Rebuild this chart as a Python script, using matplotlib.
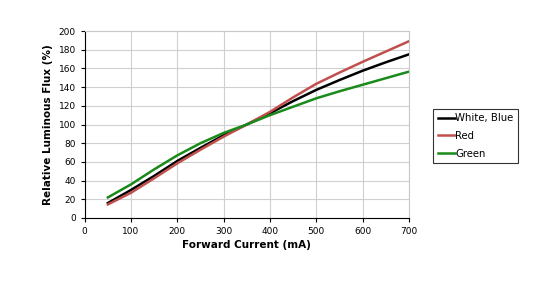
import numpy as np
import matplotlib
matplotlib.use('Agg')
import matplotlib.pyplot as plt

# Forward current (mA) and relative luminous flux (%)
current = [50, 100, 150, 200, 250, 300, 350, 400, 450, 500, 550, 600, 650, 700]
white_blue = [16, 30, 45, 61, 75, 88.5, 100, 112, 125, 137, 147.5, 157.5, 166.5, 175]
red = [14.5, 27, 42.5, 58.5, 73, 87, 100, 113.5, 129, 143.5, 155.5, 167, 178, 189]
green = [22, 36, 52, 67, 80, 91, 100, 110, 119, 128, 135.5, 142.5, 149.5, 156.5]

x_ticks = [0, 100, 200, 300, 400, 500, 600, 700]
y_ticks = list(range(0, 201, 20))

fig = plt.figure(figsize=(5.33, 2.82), dpi=100)
ax = fig.add_axes([0.159, 0.227, 0.608, 0.663])

ax.plot(current, white_blue, color='black', lw=1.8, label='White, Blue')
ax.plot(current, red, color='#c0504d', lw=1.8, label='Red')
ax.plot(current, green, color='#1a8a1a', lw=1.8, label='Green')

ax.set_xlim(0, 700)
ax.set_ylim(0, 200)
ax.set_xticks(x_ticks)
ax.set_yticks(y_ticks)
ax.tick_params(labelsize=6.5, length=3, width=0.8, direction='out')
ax.grid(True, color='#d0d0d0', lw=0.8)
ax.set_axisbelow(True)
for side in ['top', 'right']:
    ax.spines[side].set_color('#c8c8c8')
for side in ['left', 'bottom']:
    ax.spines[side].set_color('black')

ax.set_xlabel('Forward Current (mA)', fontsize=7.5, fontweight='bold', labelpad=3)
ax.set_ylabel('Relative Luminous Flux (%)', fontsize=7.5, fontweight='bold', labelpad=4)

leg = fig.legend(loc='center left', bbox_to_anchor=(0.8125, 0.518), fontsize=7.3,
                 frameon=True, fancybox=False, edgecolor='black',
                 handlelength=1.7, handletextpad=0.05, borderpad=0.45, labelspacing=0.75,
                 borderaxespad=0)
leg.get_frame().set_linewidth(0.8)

fig.savefig('out.png', dpi=100)
